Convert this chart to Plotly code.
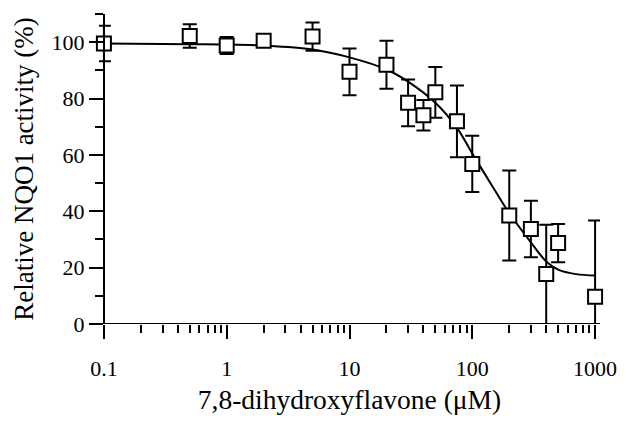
import plotly.graph_objects as go

conc = [0.1, 0.5, 1, 2, 5, 10, 20, 30, 40, 50, 75, 100, 200, 300, 400, 500, 1000]
activity = [99.5, 102.2, 98.8, 100.5, 102.0, 89.5, 92.0, 78.5, 74.1, 82.2, 71.9, 56.8, 38.5, 33.7, 17.7, 28.7, 9.7]
err_up = [6.3, 4.2, 3.0, 1.5, 5.0, 8.3, 8.5, 8.3, 5.4, 9.0, 12.7, 10.0, 16.0, 10.0, 17.5, 6.8, 27.0]
err_down = [6.3, 4.2, 3.0, 1.5, 5.0, 8.3, 8.5, 8.3, 5.4, 9.0, 12.7, 10.0, 16.0, 10.0, 17.7, 6.8, 9.7]

# Fitted curve
fit_x = [0.1, 0.5, 1, 2, 5, 10, 20, 30, 50, 75, 100, 150, 200, 300, 400, 500, 700, 1000]
fit_y = [99.5, 99.3, 99.2, 98.8, 97.4, 94.6, 90.3, 86.0, 78.5, 69.6, 60.5, 48.0, 39.3, 29.0, 22.2, 19.3, 17.7, 17.2]

x_ticks = [0.1, 1, 10, 100, 1000]
x_tick_text = ["0.1", "1", "10", "100", "1000"]
x_minor = [m * 10 ** k for k in range(-1, 3) for m in range(2, 10)]
y_ticks = [0, 20, 40, 60, 80, 100]
y_minor = [10, 30, 50, 70, 90, 110]

FONT = "Liberation Serif"
PAD = 0.04                      # extra log-decades on each side so edge marks are not clipped
XR = [-1 - PAD, 3 + PAD]
EDGE = PAD / (XR[1] - XR[0])    # paper fraction where x = 0.1 sits

fig = go.Figure()
fig.add_trace(go.Scatter(
    x=fit_x, y=fit_y, mode="lines",
    line=dict(color="black", width=2, shape="spline", smoothing=1),
    hoverinfo="skip", showlegend=False,
))
fig.add_trace(go.Scatter(
    x=conc, y=activity, mode="markers",
    marker=dict(symbol="square", size=14, color="white",
                line=dict(color="black", width=2)),
    error_y=dict(type="data", symmetric=False, array=err_up, arrayminus=err_down,
                 color="black", thickness=2, width=7),
    cliponaxis=False, showlegend=False,
))

# x-axis baseline from 0.1 to 1000 only
fig.add_shape(type="line", xref="paper", yref="y", x0=EDGE, x1=1 - EDGE, y0=0, y1=0,
              line=dict(color="black", width=2))

fig.update_layout(
    width=629, height=425,
    margin=dict(l=99, r=21, t=14, b=101),
    paper_bgcolor="white", plot_bgcolor="white",
    font=dict(family=FONT, color="black", size=22),
)
fig.update_xaxes(
    type="log", range=XR, domain=[0, 1],
    showline=False, showgrid=False, zeroline=False,
    ticks="outside", ticklen=14, tickwidth=2, tickcolor="black",
    tickvals=x_ticks, ticktext=x_tick_text,
    tickfont=dict(family=FONT, size=22),
    ticklabelstandoff=11,
    minor=dict(tickvals=x_minor, ticks="outside", ticklen=8, tickwidth=2, tickcolor="black", showgrid=False),
    title=dict(text="7,8-dihydroxyflavone (μM)", font=dict(family=FONT, size=27.5), standoff=9),
)
fig.update_yaxes(
    range=[0, 110], anchor="free", position=EDGE,
    showline=True, linecolor="black", linewidth=2,
    showgrid=False, zeroline=False,
    ticks="outside", ticklen=14, tickwidth=2, tickcolor="black",
    tickvals=y_ticks,
    tickfont=dict(family=FONT, size=22),
    minor=dict(tickvals=y_minor, ticks="outside", ticklen=8, tickwidth=2, tickcolor="black", showgrid=False),
    title=dict(text="Relative NQO1 activity (%)", font=dict(family=FONT, size=27), standoff=9),
)

fig.write_html("out.html")
